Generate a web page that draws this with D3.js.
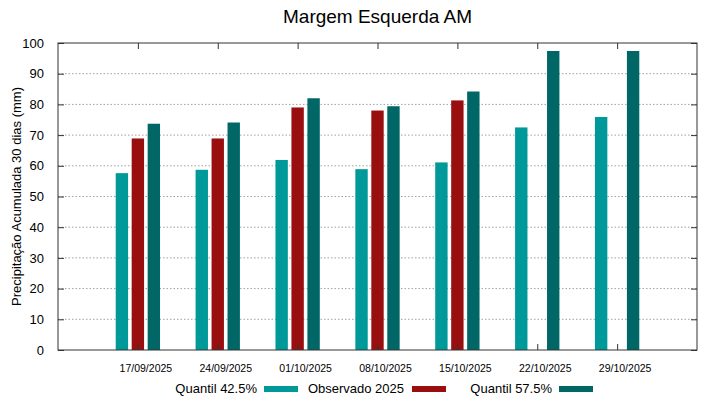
<!DOCTYPE html>
<html>
<head>
<meta charset="utf-8">
<script src="https://cdn.jsdelivr.net/npm/d3@7"></script>
<style>
  body { margin: 0; background: #fff; }
  svg { font-family: "Liberation Sans", Arial, sans-serif; }
</style>
</head>
<body>
<svg id="chart" width="719" height="399"></svg>
<script>
const dates = ["17/09/2025", "24/09/2025", "01/10/2025", "08/10/2025", "15/10/2025", "22/10/2025", "29/10/2025"];
const quantil425 = [57.6, 58.7, 61.9, 58.9, 61.1, 72.5, 75.9];
const observado = [68.9, 68.9, 79.0, 78.0, 81.3, null, null];
const quantil575 = [73.7, 74.1, 82.0, 79.4, 84.2, 97.4, 97.4];
const yTicks = [0, 10, 20, 30, 40, 50, 60, 70, 80, 90, 100];

const series = [
  {name: "Quantil 42.5%", values: quantil425, color: "#009999", offset: -1},
  {name: "Observado 2025", values: observado, color: "#990f0f", offset: 0},
  {name: "Quantil 57.5%", values: quantil575, color: "#006666", offset: 1}
];

const svg = d3.select("#chart");
const margin = {left: 58, right: 22, top: 43, bottom: 49};
const width = +svg.attr("width");
const height = +svg.attr("height");

// groups sit at 1..7 on a 0..8 axis
const x = d3.scaleLinear().domain([0, dates.length + 1]).range([margin.left, width - margin.right]);
const y = d3.scaleLinear().domain([0, 100]).range([height - margin.bottom, margin.top]);
const barStep = 0.2, barWidth = 0.155;

// dotted grid
svg.append("g")
  .selectAll("line")
  .data(yTicks.filter(d => d > 0 && d < 100))
  .join("line")
  .attr("x1", margin.left).attr("x2", width - margin.right)
  .attr("y1", d => y(d)).attr("y2", d => y(d))
  .attr("stroke", "#a0a0a0")
  .attr("stroke-width", 1)
  .attr("stroke-dasharray", "1.5,2");

// bars
series.forEach(s => {
  svg.append("g")
    .selectAll("rect")
    .data(s.values.map((v, i) => ({v, i})).filter(d => d.v != null))
    .join("rect")
    .attr("x", d => x(d.i + 1 + s.offset * barStep - barWidth / 2))
    .attr("width", x(barWidth) - x(0))
    .attr("y", d => y(d.v))
    .attr("height", d => y(0) - y(d.v))
    .attr("fill", s.color);
});

// axes (tick marks inward, mirrored)
const tickIdx = d3.range(1, dates.length + 1);
svg.append("g")
  .attr("transform", `translate(0,${y(0)})`)
  .call(d3.axisBottom(x).tickValues(tickIdx).tickSize(-6).tickFormat(""))
  .call(g => g.select(".domain").remove());
svg.append("g")
  .attr("transform", `translate(0,${y(100)})`)
  .call(d3.axisTop(x).tickValues(tickIdx).tickSize(-6).tickFormat(""))
  .call(g => g.select(".domain").remove());
svg.append("g")
  .attr("transform", `translate(${margin.left},0)`)
  .call(d3.axisLeft(y).tickValues(yTicks).tickSize(-6).tickPadding(14))
  .call(g => g.select(".domain").remove())
  .call(g => g.selectAll("text").attr("font-size", 13).attr("fill", "#000").attr("font-family", "Liberation Sans, Arial, sans-serif"));
svg.append("g")
  .attr("transform", `translate(${width - margin.right},0)`)
  .call(d3.axisRight(y).tickValues(yTicks).tickSize(-6).tickFormat(""))
  .call(g => g.select(".domain").remove());

svg.selectAll(".tick line").attr("stroke", "#333");

svg.append("rect")
  .attr("x", margin.left).attr("y", margin.top)
  .attr("width", width - margin.left - margin.right)
  .attr("height", height - margin.top - margin.bottom)
  .attr("fill", "none").attr("stroke", "#333").attr("stroke-width", 1);

// date labels
svg.append("g")
  .selectAll("text")
  .data(dates)
  .join("text")
  .attr("x", (d, i) => x(i + 1) + 8)
  .attr("y", 372)
  .attr("text-anchor", "middle")
  .attr("font-size", 10.5)
  .text(d => d);

// title
svg.append("text")
  .attr("x", (margin.left + width - margin.right) / 2)
  .attr("y", 23)
  .attr("text-anchor", "middle")
  .attr("font-size", 19)
  .text("Margem Esquerda AM");

// y label
svg.append("text")
  .attr("transform", `translate(21,${y(50)}) rotate(-90)`)
  .attr("text-anchor", "middle")
  .attr("font-size", 13)
  .text("Precipitação Acumulada 30 dias (mm)");

// legend
const legendPos = [{textEnd: 257, sw: 264}, {textEnd: 404, sw: 412}, {textEnd: 552, sw: 559}];
series.forEach((s, i) => {
  svg.append("text")
    .attr("x", legendPos[i].textEnd)
    .attr("y", 393)
    .attr("text-anchor", "end")
    .attr("font-size", 13)
    .text(s.name);
  svg.append("rect")
    .attr("x", legendPos[i].sw)
    .attr("y", 386)
    .attr("width", 34)
    .attr("height", 6)
    .attr("fill", s.color);
});
</script>
</body>
</html>
